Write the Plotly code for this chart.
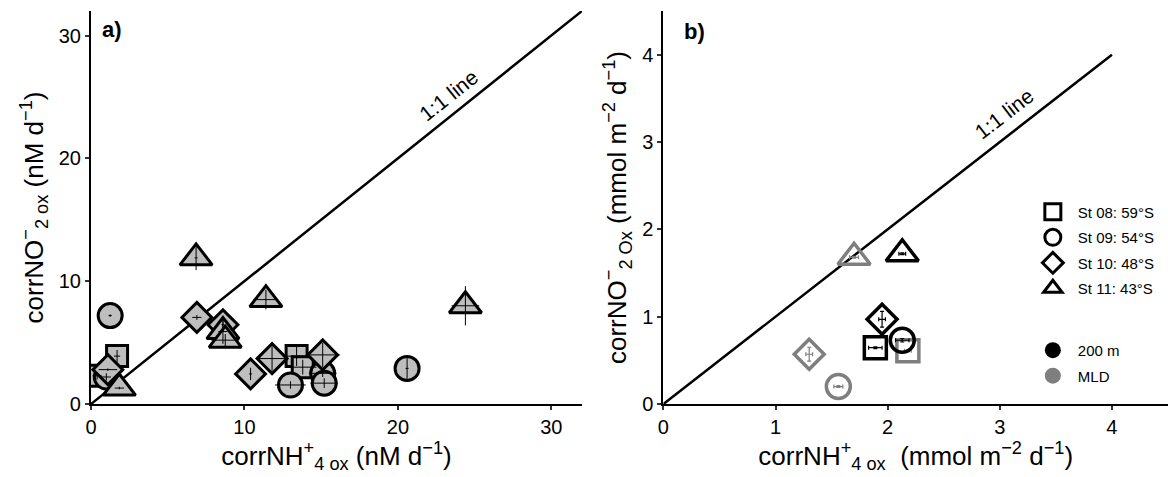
import plotly.graph_objects as go

# ---------------- Panel a data (nM d-1) ----------------
st08_a_x = [0.4, 1.7, 13.4, 13.8]
st08_a_y = [2.3, 3.9, 3.9, 3.0]
st08_a_xerr = [0.3, 0.2, 0.9, 0.9]
st08_a_yerr = [0.3, 0.5, 0.8, 0.6]

st09_a_x = [1.0, 1.25, 13.0, 15.1, 15.2, 20.6]
st09_a_y = [2.2, 7.2, 1.55, 2.5, 1.7, 2.9]
st09_a_xerr = [0.3, 0.1, 1.0, 0.9, 0.9, 0.1]
st09_a_yerr = [0.3, 0.1, 0.3, 0.3, 0.4, 1.0]

st10_a_x = [1.1, 6.9, 8.6, 10.4, 11.8, 15.1]
st10_a_y = [2.8, 7.05, 6.45, 2.45, 3.7, 4.0]
st10_a_xerr = [0.6, 0.3, 0.1, 0.1, 1.0, 1.1]
st10_a_yerr = [0.1, 0.2, 0.5, 0.5, 1.0, 1.0]

st11_a_x = [1.85, 6.85, 8.6, 8.75, 11.4, 24.4]
st11_a_y = [1.3, 11.9, 5.9, 5.2, 8.5, 8.0]
st11_a_xerr = [0.3, 0.1, 0.3, 0.9, 0.8, 0.9]
st11_a_yerr = [0.1, 1.0, 1.0, 0.5, 0.8, 1.6]

# ---------------- Panel b data (mmol m-2 d-1) ----------------
stations = ["St 08: 59°S", "St 09: 54°S", "St 10: 48°S", "St 11: 43°S"]
depths = ["200 m", "MLD"]
b200_x = [1.89, 2.13, 1.95, 2.13]
b200_y = [0.645, 0.73, 0.97, 1.72]
b200_xerr = [0.06, 0.06, 0.03, 0.03]
b200_yerr = [0.01, 0.02, 0.09, 0.01]
bmld_x = [2.18, 1.56, 1.30, 1.70]
bmld_y = [0.61, 0.20, 0.57, 1.68]
bmld_xerr = [0.03, 0.04, 0.03, 0.04]
bmld_yerr = [0.01, 0.01, 0.08, 0.01]

line_a = [0, 32]
line_b = [0, 4]

FONT = "Liberation Sans, Arial, Helvetica, sans-serif"
GREY_FILL = "#bebebe"
MLD_GREY = "#7f7f7f"

symbols = ["square", "circle", "diamond", "triangle-up"]
sizes_a = [21, 24, 23, 28]
sizes_b = [22, 24, 23, 28]

fig = go.Figure()

# 1:1 lines
fig.add_trace(go.Scatter(x=line_a, y=line_a, mode="lines", line=dict(color="black", width=2.5),
                         showlegend=False, hoverinfo="skip", xaxis="x", yaxis="y"))
fig.add_trace(go.Scatter(x=line_b, y=line_b, mode="lines", line=dict(color="black", width=2.5),
                         showlegend=False, hoverinfo="skip", xaxis="x2", yaxis="y2"))

a_sets = [
    (st08_a_x, st08_a_y, st08_a_xerr, st08_a_yerr),
    (st09_a_x, st09_a_y, st09_a_xerr, st09_a_yerr),
    (st10_a_x, st10_a_y, st10_a_xerr, st10_a_yerr),
    (st11_a_x, st11_a_y, st11_a_xerr, st11_a_yerr),
]

# panel a markers
for i, (xs, ys, xe, ye) in enumerate(a_sets):
    fig.add_trace(go.Scatter(
        x=xs, y=ys, mode="markers", showlegend=False, name=stations[i],
        marker=dict(symbol=symbols[i], size=sizes_a[i], color=GREY_FILL,
                    line=dict(color="black", width=3)),
        xaxis="x", yaxis="y"))
# panel a error bars on top
for i, (xs, ys, xe, ye) in enumerate(a_sets):
    fig.add_trace(go.Scatter(
        x=xs, y=ys, mode="markers", showlegend=False, hoverinfo="skip",
        marker=dict(size=1, opacity=0),
        error_x=dict(type="data", array=xe, color="black", thickness=1, width=0),
        error_y=dict(type="data", array=ye, color="black", thickness=1, width=0),
        xaxis="x", yaxis="y"))

# panel b markers (open)
for i in range(4):
    for (xs, ys, xe, ye, col) in [(bmld_x, bmld_y, bmld_xerr, bmld_yerr, MLD_GREY),
                                   (b200_x, b200_y, b200_xerr, b200_yerr, "black")]:
        fig.add_trace(go.Scatter(
            x=[xs[i]], y=[ys[i]], mode="markers", showlegend=False,
            marker=dict(symbol=symbols[i] + "-open", size=sizes_b[i], color=col,
                        line=dict(color=col, width=3.5)),
            error_x=dict(type="data", array=[xe[i]], color=col, thickness=1.2, width=2),
            error_y=dict(type="data", array=[ye[i]], color=col, thickness=1.2, width=2),
            xaxis="x2", yaxis="y2"))

# legend: stations (shape)
for i in range(4):
    fig.add_trace(go.Scatter(
        x=[None], y=[None], mode="markers", name=stations[i], legend="legend",
        legendgroup="s%d" % i,
        marker=dict(symbol=symbols[i], size=16, color="white",
                    line=dict(color="black", width=3)),
        xaxis="x2", yaxis="y2"))
# legend: depth (colour)
for j, col in enumerate(["black", MLD_GREY]):
    fig.add_trace(go.Scatter(
        x=[None], y=[None], mode="markers", name=depths[j], legend="legend2",
        legendgroup="d%d" % j,
        marker=dict(symbol="circle", size=16, color=col, line=dict(width=0)),
        xaxis="x2", yaxis="y2"))

axis_common = dict(showgrid=False, zeroline=False, showline=True, linecolor="black", linewidth=2,
                   ticks="outside", ticklen=4, tickwidth=1.5, tickcolor="#333333",
                   tickfont=dict(family=FONT, size=20, color="black"), automargin=False)

fig.update_layout(
    width=1168, height=477,
    margin=dict(l=0, r=0, t=0, b=0),
    paper_bgcolor="white", plot_bgcolor="white",
    font=dict(family=FONT, color="black"),
    xaxis=dict(domain=[0.0779, 0.4983], range=[0, 32], tickvals=[0, 10, 20, 30], anchor="y",
               title=dict(text="corrNH<sup>+</sup><sub>4 ox</sub> (nM d<sup>−1</sup>)",
                          font=dict(size=26), standoff=4), **axis_common),
    yaxis=dict(domain=[0.153, 0.977], range=[0, 32], tickvals=[0, 10, 20, 30], anchor="x",
               title=dict(text="corrNO<sup>−</sup><sub>2 ox</sub> (nM d<sup>−1</sup>)",
                          font=dict(size=26), standoff=8), **axis_common),
    xaxis2=dict(domain=[0.568, 1.0], range=[0, 4.5], tickvals=[0, 1, 2, 3, 4], anchor="y2",
                title=dict(text="corrNH<sup>+</sup><sub>4 ox</sub>  (mmol m<sup>−2</sup> d<sup>−1</sup>)",
                           font=dict(size=26), standoff=4), **axis_common),
    yaxis2=dict(domain=[0.153, 0.977], range=[0, 4.5], tickvals=[0, 1, 2, 3, 4], anchor="x2",
                title=dict(text="corrNO<sup>−</sup><sub>2 Ox</sub> (mmol m<sup>−2</sup> d<sup>−1</sup>)",
                           font=dict(size=26), standoff=8), **axis_common),
    legend=dict(x=0.880, y=0.59, xanchor="left", yanchor="top", bgcolor="rgba(0,0,0,0)",
                font=dict(family=FONT, size=15, color="black"), tracegroupgap=3, itemwidth=40),
    legend2=dict(x=0.880, y=0.30, xanchor="left", yanchor="top", bgcolor="rgba(0,0,0,0)",
                 font=dict(family=FONT, size=15, color="black"), tracegroupgap=3, itemwidth=40),
    annotations=[
        dict(x=0.6, y=30.5, xref="x", yref="y", text="<b>a)</b>", showarrow=False,
             xanchor="left", yanchor="middle", font=dict(size=22, family=FONT)),
        dict(x=0.17, y=4.27, xref="x2", yref="y2", text="<b>b)</b>", showarrow=False,
             xanchor="left", yanchor="middle", font=dict(size=22, family=FONT)),
        dict(x=23.3, y=25.1, xref="x", yref="y", text="1:1 line", showarrow=False,
             textangle=-38.6, font=dict(size=21, family=FONT)),
        dict(x=3.04, y=3.33, xref="x2", yref="y2", text="1:1 line", showarrow=False,
             textangle=-37.8, font=dict(size=21, family=FONT)),
    ],
)

fig.write_html("out.html")
